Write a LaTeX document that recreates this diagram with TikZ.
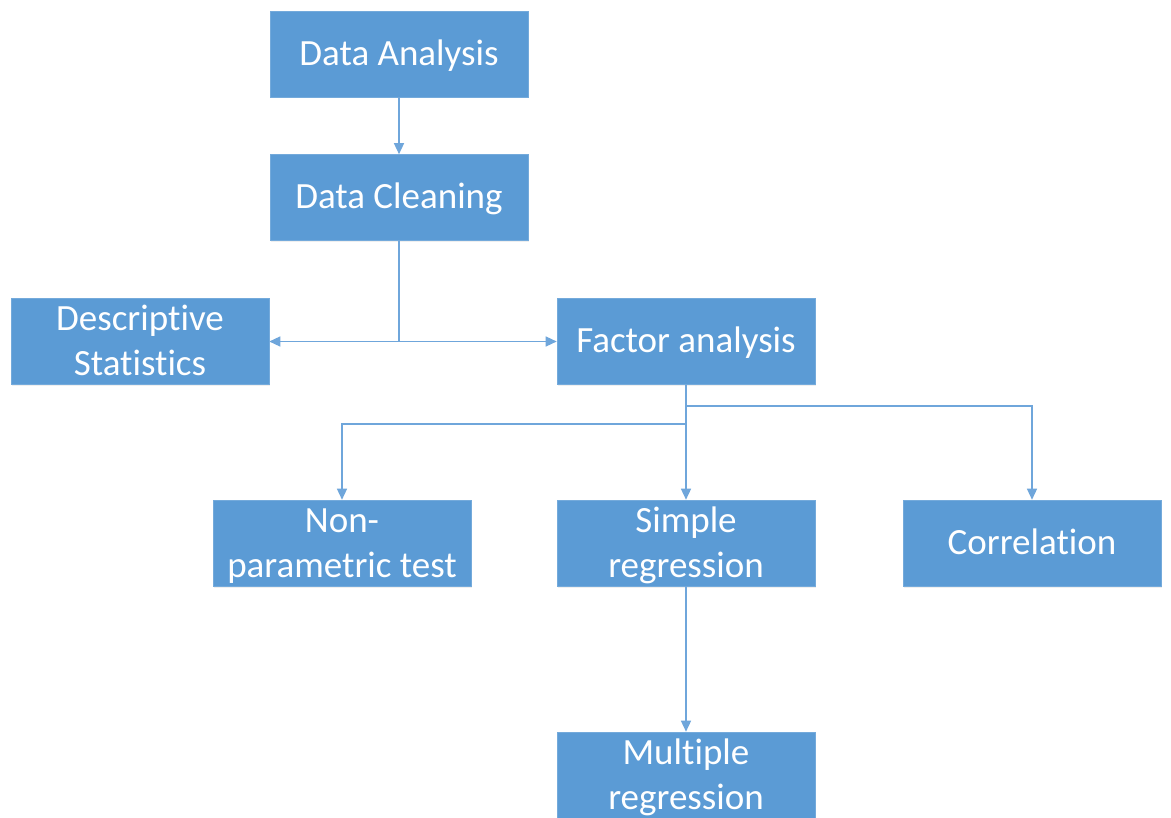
\documentclass[tikz,border=0pt]{standalone}
\usepackage{fontspec}
\setmainfont{Carlito}[Ligatures={NoCommon,NoRare,NoDiscretionary,NoContextual},RawFeature={-calt}]
\usetikzlibrary{arrows.meta,shadows}
\definecolor{boxblue}{HTML}{5B9BD5}
\definecolor{linkblue}{HTML}{6FA6DB}
% "ti" set as two separate letters
\newcommand\splitti{t\kern0pt i}
% box text, set a little below the geometric centre; reported size trimmed
% evenly so two-line texts do not stretch the boxes
\newcommand\boxtext[1]{\raisebox{-2.5pt}[\dimexpr\height-5pt\relax][\dimexpr\depth-5pt\relax]{\begin{tabular}{@{}c@{}}#1\end{tabular}}}
\tikzset{
  stage/.style={rectangle, fill=boxblue, draw=boxblue!85!white, line width=0.6pt,
    minimum width=258pt, minimum height=86pt, inner sep=0pt,
    align=center, text=white, font=\fontsize{37}{45}\selectfont,
    drop shadow={opacity=0.12, shadow xshift=1.2pt, shadow yshift=-1.5pt}},
  link/.style={draw=linkblue, line width=1.4pt},
  arr/.style={link, -{Triangle[length=11pt,width=10pt]}}
}
\begin{document}
\begin{tikzpicture}[x=1pt, y=-1pt]
\useasboundingbox (0,0) rectangle (1171,818);
\fill[white] (0,0) rectangle (1171,818);

\node[stage] (da) at (399,54) {\boxtext{Data Analysis}};
\node[stage] (dc) at (399,197.5) {\boxtext{Data Cleaning}};
\node[stage] (ds) at (140,341.5) {\boxtext{Descrip\splitti ve\\Statis\splitti cs}};
\node[stage] (fa) at (686,341.5) {\boxtext{Factor analysis}};
\node[stage] (np) at (342,543) {\boxtext{Non-\\parametric test}};
\node[stage] (sr) at (686,543) {\boxtext{Simple\\regression}};
\node[stage] (co) at (1032,543) {\boxtext{Correlation}};
\node[stage] (mr) at (686,775) {\boxtext{Multiple\\regression}};

% branching points
\coordinate (split) at (399,341.5);
\coordinate (toCorr) at (686,406);
\coordinate (toNonp) at (686,424);

\draw[arr] (da) -- (dc);
\draw[link] (dc.south) -- (split);
\draw[arr] (split) -- (ds.east);
\draw[arr] (split) -- (fa.west);

\draw[arr] (fa) -- (sr);
\draw[arr] (toCorr) -| (co.north);
\draw[arr] (toNonp) -| (np.north);
\draw[arr] (sr) -- (mr);
\end{tikzpicture}
\end{document}
